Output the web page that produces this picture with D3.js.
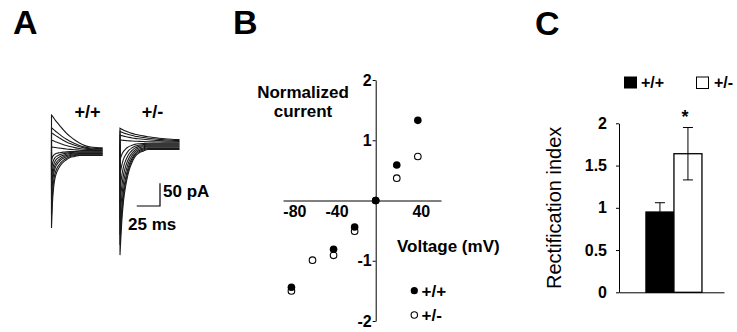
<!DOCTYPE html>
<html>
<head>
<meta charset="utf-8">
<script src="https://cdn.jsdelivr.net/npm/d3@7"></script>
<style>
  body { margin: 0; background: #fff; }
  svg { display: block; font-family: "Liberation Sans", Arial, Helvetica, sans-serif; }
  .bold { font-weight: bold; }
</style>
</head>
<body>
<svg id="fig" width="737" height="332"></svg>
<script>
// ---- panel A: whole-cell current traces (time in ms, current in pA)
const traceTimes  = [0, 1, 2, 3, 4, 6, 8, 10, 13, 16, 20, 25, 30, 36, 42, 48, 55, 64];
const wtPeaks     = [81, 53, 42, 26, 11, -18, -40, -62, -84, -105, -138, -167];
const wtSteady    = [9, 7.5, 6, 4.5, 3, 1.5, 0, -1.5, -3, -4.5, -6, -7.5];
const hetPeaks    = [37, 30, 22, 11, -33, -66, -99, -132, -165, -198, -220, -242];
const hetSteady   = [12, 10, 8, 6, 4, 2, 0, -2, -4, -6, -8, -10];
const wtOutDecay  = [1, .97, .93, .89, .85, .78, .71, .64, .54, .45, .35, .24, .15, .07, .03, .01, 0, 0];
const wtInDecay   = [1, .66, .48, .37, .3, .22, .17, .13, .09, .06, .03, .015, 0, 0, 0, 0, 0, 0];
const hetOutDecay = [1, .95, .9, .86, .82, .75, .68, .62, .54, .47, .4, .32, .25, .18, .12, .07, .03, 0];
const hetInDecay  = [1, .82, .67, .56, .47, .35, .26, .19, .12, .07, .035, .015, 0, 0, 0, 0, 0, 0];

// ---- panel B: normalized I-V relation
const wtVoltage  = [-80, -40, -20, 0, 20, 40];
const wtCurrent  = [-1.44, -0.81, -0.44, 0, 0.59, 1.33];
const hetVoltage = [-80, -60, -40, -20, 0, 20, 40];
const hetCurrent = [-1.50, -0.99, -0.91, -0.51, 0, 0.37, 0.73];

// ---- panel C: rectification index
const genotypes = ['+/+', '+/-'];
const rectIndex = [0.95, 1.64];
const rectSem   = [0.11, 0.31];

const svg = d3.select('#fig');

// panel letters
svg.append('text').attr('class', 'bold').attr('x', 13).attr('y', 34).style('font-size', '34px').text('A');
svg.append('text').attr('class', 'bold').attr('x', 233).attr('y', 34).style('font-size', '34px').text('B');
svg.append('text').attr('class', 'bold').attr('x', 535).attr('y', 35).style('font-size', '34px').text('C');

// ================= A =================
const msPx = 0.93, pAPx = 0.455;

function drawTraces(x0, y0, dur, peaks, steady, outK, inK) {
    const x = d3.scaleLinear().domain([0, dur]).range([x0, x0 + dur * msPx]);
    const y = d3.scaleLinear().domain([0, 100]).range([y0, y0 - 100 * pAPx]);
    const line = d3.line().x(d => x(d[0])).y(d => y(d[1])).curve(d3.curveMonotoneX);
    const g = svg.append('g');
    peaks.forEach((p, i) => {
        const k = p > 0 ? outK : inK;
        const pts = [];
        traceTimes.forEach((t, j) => {
            if (t <= dur) pts.push([t, steady[i] + (p - steady[i]) * k[j]]);
        });
        g.append('path')
            .attr('d', `M${x(0)},${y(0)}L` + line(pts).slice(1))
            .attr('fill', 'none')
            .attr('stroke', '#1a1a1a')
            .attr('stroke-width', 1.1);
    });
}
drawTraces(51.5, 152, 55, wtPeaks, wtSteady, wtOutDecay, wtInDecay);
drawTraces(120, 145, 64, hetPeaks, hetSteady, hetOutDecay, hetInDecay);

svg.append('text').attr('class', 'bold').attr('x', 87.5).attr('y', 118)
    .attr('text-anchor', 'middle').style('font-size', '18px').text('+/+');
svg.append('text').attr('class', 'bold').attr('x', 152.5).attr('y', 118)
    .attr('text-anchor', 'middle').style('font-size', '18px').text('+/-');

// scale bar 25 ms / 50 pA
const sbX = d3.scaleLinear().domain([0, 25]).range([160 - 25 * msPx, 160]);
const sbY = d3.scaleLinear().domain([0, 50]).range([206, 206 - 50 * pAPx]);
svg.append('path')
    .attr('d', `M${sbX(0)},${sbY(0)}H${sbX(25)}V${sbY(50)}`)
    .attr('fill', 'none').attr('stroke', '#000').attr('stroke-width', 1.2);
svg.append('text').attr('class', 'bold').attr('x', 163).attr('y', 197).style('font-size', '17px').text('50 pA');
svg.append('text').attr('class', 'bold').attr('x', 128).attr('y', 229.5).style('font-size', '17px').text('25 ms');

// ================= B =================
const xB = d3.scaleLinear().domain([-88, 62]).range([283, 441]);
const yB = d3.scaleLinear().domain([-2, 2]).range([321, 80]);

const gB = svg.append('g');
gB.append('g')
    .attr('transform', `translate(0,${yB(0)})`)
    .call(d3.axisBottom(xB).tickValues([-80, -40, 40]).tickSize(0).tickPadding(5).tickFormat(d => String(d)))
    .call(g => g.selectAll('text').attr('dx', 3));
gB.append('g')
    .attr('transform', `translate(${xB(0)},0)`)
    .call(d3.axisLeft(yB).tickValues([-2, -1, 1, 2]).tickSize(3).tickSizeOuter(0).tickPadding(1).tickFormat(d => String(d)));
gB.selectAll('.domain, .tick line').attr('stroke', '#000').attr('stroke-width', 1);
gB.selectAll('.tick text').attr('class', 'bold').style('font-size', '16px').style('font-family', 'inherit').attr('fill', '#000');

gB.selectAll('circle.het').data(hetVoltage).enter().append('circle')
    .attr('class', 'het')
    .attr('cx', d => xB(d)).attr('cy', (d, i) => yB(hetCurrent[i])).attr('r', 3.3)
    .attr('fill', '#fff').attr('stroke', '#000').attr('stroke-width', 1.1);
gB.selectAll('circle.wt').data(wtVoltage).enter().append('circle')
    .attr('class', 'wt')
    .attr('cx', d => xB(d)).attr('cy', (d, i) => yB(wtCurrent[i])).attr('r', 3.8)
    .attr('fill', '#000');

gB.append('text').attr('class', 'bold').attr('x', 303).attr('y', 97.5)
    .attr('text-anchor', 'middle').style('font-size', '17px').text('Normalized');
gB.append('text').attr('class', 'bold').attr('x', 303).attr('y', 116.5)
    .attr('text-anchor', 'middle').style('font-size', '17px').text('current');
gB.append('text').attr('class', 'bold').attr('x', 397).attr('y', 252)
    .style('font-size', '17px').text('Voltage (mV)');

// legend B
gB.append('circle').attr('cx', 414.3).attr('cy', 290.7).attr('r', 3.6).attr('fill', '#000');
gB.append('text').attr('class', 'bold').attr('x', 421.5).attr('y', 296.5).style('font-size', '17px').text('+/+');
gB.append('circle').attr('cx', 414.3).attr('cy', 315).attr('r', 3.2)
    .attr('fill', '#fff').attr('stroke', '#000').attr('stroke-width', 1.1);
gB.append('text').attr('class', 'bold').attr('x', 421.5).attr('y', 321).style('font-size', '17px').text('+/-');

// ================= C =================
const xC = d3.scaleBand().domain(genotypes).range([619, 724])
    .paddingInner(0).paddingOuter(0.875).align(0.55);
const yC = d3.scaleLinear().domain([0, 2]).range([292.3, 123.3]);
const gC = svg.append('g');

gC.append('g')
    .attr('transform', `translate(${xC.range()[0]},0)`)
    .call(d3.axisLeft(yC).tickValues([0, 0.5, 1, 1.5, 2]).tickSize(3).tickSizeOuter(0).tickPadding(9).tickFormat(d => String(d)));

gC.selectAll('rect.bar').data(genotypes).enter().append('rect')
    .attr('class', 'bar')
    .attr('x', d => xC(d)).attr('width', xC.bandwidth())
    .attr('y', (d, i) => yC(rectIndex[i]))
    .attr('height', (d, i) => yC(0) - yC(rectIndex[i]))
    .attr('fill', (d, i) => i === 0 ? '#000' : '#fff')
    .attr('stroke', '#000').attr('stroke-width', 1.3);

gC.append('g')
    .attr('transform', `translate(0,${yC(0)})`)
    .call(d3.axisBottom(xC).tickSize(0).tickSizeOuter(0).tickFormat(''));
gC.selectAll('.domain, .tick line').attr('stroke', '#000').attr('stroke-width', 1);
gC.selectAll('.tick text').attr('class', 'bold').style('font-size', '16px').style('font-family', 'inherit').attr('fill', '#000');

// error bars
const errs = gC.selectAll('g.err').data(genotypes).enter().append('g').attr('class', 'err');
errs.append('line')
    .attr('x1', d => xC(d) + xC.bandwidth() / 2).attr('x2', d => xC(d) + xC.bandwidth() / 2)
    .attr('y1', (d, i) => yC(rectIndex[i] - rectSem[i])).attr('y2', (d, i) => yC(rectIndex[i] + rectSem[i]))
    .attr('stroke', '#000').attr('stroke-width', 1);
errs.append('line')
    .attr('x1', d => xC(d) + xC.bandwidth() / 2 - 5).attr('x2', d => xC(d) + xC.bandwidth() / 2 + 5)
    .attr('y1', (d, i) => yC(rectIndex[i] + rectSem[i])).attr('y2', (d, i) => yC(rectIndex[i] + rectSem[i]))
    .attr('stroke', '#000').attr('stroke-width', 1);
errs.append('line')
    .attr('x1', d => xC(d) + xC.bandwidth() / 2 - 5).attr('x2', d => xC(d) + xC.bandwidth() / 2 + 5)
    .attr('y1', (d, i) => yC(rectIndex[i] - rectSem[i])).attr('y2', (d, i) => yC(rectIndex[i] - rectSem[i]))
    .attr('stroke', '#000').attr('stroke-width', 1);

// significance star
gC.append('text').attr('class', 'bold')
    .attr('x', xC('+/-') + xC.bandwidth() / 2 - 3)
    .attr('y', yC(rectIndex[1] + rectSem[1]) - 5)
    .attr('text-anchor', 'middle').style('font-size', '18px').text('*');

// y title
gC.append('text')
    .attr('transform', `translate(561,${yC(1)}) rotate(-90)`)
    .attr('text-anchor', 'middle').style('font-size', '20px').text('Rectification index');

// legend C
gC.append('rect').attr('x', 624).attr('y', 76.5).attr('width', 13).attr('height', 12).attr('fill', '#000');
gC.append('text').attr('class', 'bold').attr('x', 641).attr('y', 88).style('font-size', '16px').text('+/+');
gC.append('rect').attr('x', 696.5).attr('y', 77).attr('width', 12).attr('height', 11.5)
    .attr('fill', '#fff').attr('stroke', '#000').attr('stroke-width', 1);
gC.append('text').attr('class', 'bold').attr('x', 714).attr('y', 88).style('font-size', '16px').text('+/-');
</script>
</body>
</html>
